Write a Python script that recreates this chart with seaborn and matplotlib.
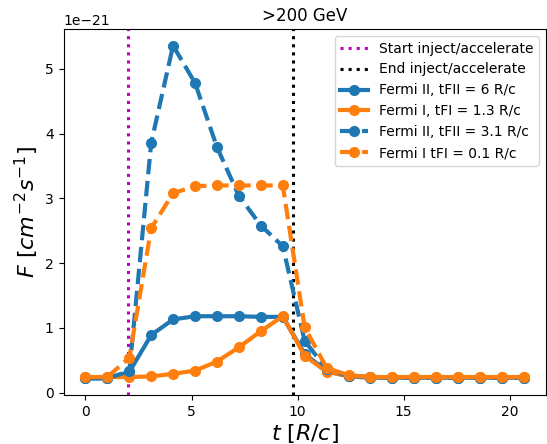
import numpy as np
import pandas as pd
import matplotlib
matplotlib.use("Agg")
import matplotlib.pyplot as plt
import seaborn as sns

# time grid [R/c]
t = [0.00, 1.03, 2.07, 3.10, 4.13, 5.17, 6.20, 7.23, 8.27, 9.30, 10.33,
     11.37, 12.40, 13.43, 14.47, 15.50, 16.53, 17.57, 18.60, 19.63, 20.67]

# fluxes in units of 1e-21 cm^-2 s^-1
fermi2_tfii6 = [0.22, 0.22, 0.32, 0.89, 1.13, 1.18, 1.18, 1.18, 1.17, 1.17, 0.60,
                0.33, 0.25, 0.23, 0.23, 0.23, 0.23, 0.23, 0.23, 0.23, 0.23]
fermi1_tfi13 = [0.24, 0.24, 0.24, 0.25, 0.29, 0.34, 0.48, 0.70, 0.95, 1.18, 0.57,
                0.32, 0.26, 0.24, 0.24, 0.24, 0.24, 0.24, 0.24, 0.24, 0.24]
fermi2_tfii31 = [0.22, 0.22, 0.33, 3.86, 5.36, 4.78, 3.79, 3.04, 2.58, 2.26, 0.80,
                 0.36, 0.26, 0.24, 0.23, 0.23, 0.23, 0.23, 0.23, 0.23, 0.23]
fermi1_tfi01 = [0.24, 0.24, 0.54, 2.54, 3.08, 3.19, 3.20, 3.20, 3.20, 3.20, 1.01,
                0.38, 0.27, 0.24, 0.24, 0.24, 0.24, 0.24, 0.24, 0.24, 0.24]

t_start = 2.0
t_end = 9.8
scale = 1e-21

series = [
    ("Fermi II, tFII = 6 R/c", fermi2_tfii6, "#1f77b4", "-"),
    ("Fermi I, tFI = 1.3 R/c", fermi1_tfi13, "#ff7f0e", "-"),
    ("Fermi II, tFII = 3.1 R/c", fermi2_tfii31, "#1f77b4", "--"),
    ("Fermi I tFI = 0.1 R/c", fermi1_tfi01, "#ff7f0e", "--"),
]

fig = plt.figure(figsize=(5.47, 4.44), dpi=100)
ax = fig.add_axes([63.5 / 547, 1 - 395 / 444, (546 - 63.5) / 547, (395 - 29) / 444])

ax.axvline(t_start, color="m", linestyle=":", linewidth=2.2, label="Start inject/accelerate")
ax.axvline(t_end, color="k", linestyle=":", linewidth=2.2, label="End inject/accelerate")

for name, vals, color, ls in series:
    df = pd.DataFrame({"t": t, "F": np.array(vals) * scale})
    kw = dict(linestyle=ls)
    if ls == "--":
        kw["dashes"] = (4.5, 2.0)
    sns.lineplot(data=df, x="t", y="F", ax=ax, color=color,
                 linewidth=3, marker="o", markersize=7,
                 markeredgecolor=color, markeredgewidth=1, label=name, **kw)

ax.set_title(">200 GeV", fontsize=12)
ax.set_xlabel(r"$t\ [R/c]$", fontsize=16, labelpad=2)
ax.set_ylabel(r"$F\ [cm^{-2}s^{-1}]$", fontsize=16, labelpad=3)
ax.set_xticks([0, 5, 10, 15, 20])
ax.legend(loc="upper right", fontsize=10)

fig.savefig("out.png", dpi=100)
